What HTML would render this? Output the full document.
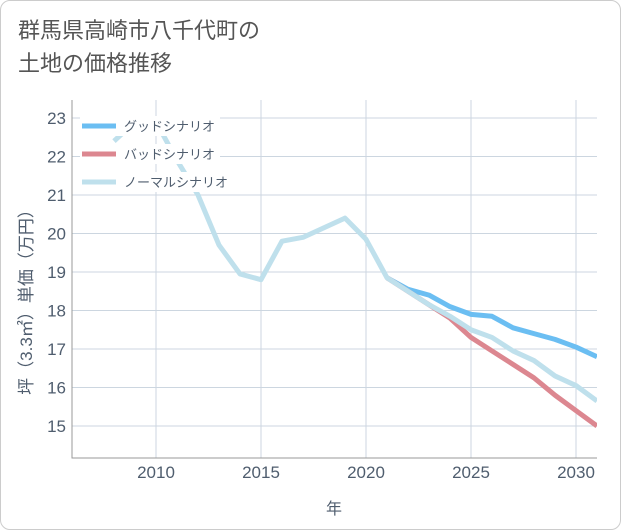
<!DOCTYPE html>
<html><head><meta charset="utf-8"><style>
body{margin:0;background:#fff;font-family:"Liberation Sans","Noto Sans CJK JP",sans-serif;}
#card{position:absolute;left:0;top:0;width:619px;height:528px;border:1px solid #ccc;border-radius:10px;background:#fff;}
#title{position:absolute;left:18px;top:14px;font-size:22px;line-height:33px;color:#555;}
svg{position:absolute;left:0;top:0;}
</style></head><body>
<div id="card"></div>
<div id="title">群馬県高崎市八千代町の<br>土地の価格推移</div>
<svg id="chart" width="621" height="530"></svg>
<script>
const years=[2008,2009,2010,2011,2012,2013,2014,2015,2016,2017,2018,2019,2020,2021,2022,2023,2024,2025,2026,2027,2028,2029,2030,2031];
const normal=[22.4,22.9,22.9,21.9,21.0,19.7,18.95,18.8,19.8,19.9,20.15,20.4,19.85,18.85,18.5,18.15,17.85,17.5,17.3,16.95,16.7,16.3,16.05,15.65];
const goodYears=[2021,2022,2023,2024,2025,2026,2027,2028,2029,2030,2031];
const good=[18.85,18.55,18.4,18.1,17.9,17.85,17.55,17.4,17.25,17.05,16.8];
const bad=[18.85,18.5,18.15,17.8,17.3,16.95,16.6,16.25,15.8,15.4,15.0];
const xTicks=[2010,2015,2020,2025,2030];
const yTicks=[15,16,17,18,19,20,21,22,23];
const legendLabels=["グッドシナリオ","バッドシナリオ","ノーマルシナリオ"];
const colors=["#6bbef2","#dc8790","#bfe0ec"];
const L=72,R=597,T=100,B=458;
const x=v=>L+(v-2006)*(R-L)/25;
const y=v=>426-(v-15)*38.5;
const svg=document.getElementById('chart');
const NS='http://www.w3.org/2000/svg';
const TXT='#4f5d6e';
function mk(tag,attrs,parent){const e=document.createElementNS(NS,tag);for(const k in attrs)e.setAttribute(k,attrs[k]);(parent||svg).appendChild(e);return e;}
for(const t of xTicks){const l=mk('line',{x1:x(t),x2:x(t),y1:T,y2:B,stroke:'#ccd6e0'});
const tx=mk('text',{x:x(t),y:478,'text-anchor':'middle','font-size':17,fill:TXT});tx.textContent=t;}
for(const t of yTicks){const l=mk('line',{x1:L,x2:R,y1:y(t),y2:y(t),stroke:'#ccd6e0'});
const tx=mk('text',{x:66,y:y(t)+6,'text-anchor':'end','font-size':17,fill:TXT});tx.textContent=t;}
const ax=mk('path',{d:`M${L} ${T}V${B}H${R}`,fill:'none',stroke:'#999'});
const clip=mk('clipPath',{id:'c'});mk('rect',{x:L,y:T,width:R-L,height:B-T},clip);
function line(xs,vs,c,name){const p=mk('path',{d:xs.map((v,i)=>(i?'L':'M')+x(v)+' '+y(vs[i])).join(''),fill:'none',stroke:c,'stroke-width':5,'stroke-linejoin':'round','clip-path':'url(#c)'});}
line(goodYears,good,colors[0],'good-scenario-line');
line(goodYears,bad,colors[1],'bad-scenario-line');
line(years,normal,colors[2],'normal-scenario-line');
legendLabels.forEach((s,i)=>{const yy=126+i*28;
const bg=mk('rect',{x:80,y:yy-10,width:i==2?164:140,height:20,fill:'#fff'});
const l=mk('line',{x1:82,x2:116,y1:yy,y2:yy,stroke:colors[i],'stroke-width':5});
const t=mk('text',{x:124,y:yy+5,'font-size':13,fill:TXT});t.textContent=s;});
const xt=mk('text',{x:334,y:514,'text-anchor':'middle','font-size':16,fill:TXT});xt.textContent='年';
const yt=mk('text',{x:0,y:0,'text-anchor':'middle','font-size':17,fill:TXT,transform:'translate(32 298) rotate(-90)'});yt.textContent='坪（3.3㎡）単価（万円）';
</script>
</body></html>
